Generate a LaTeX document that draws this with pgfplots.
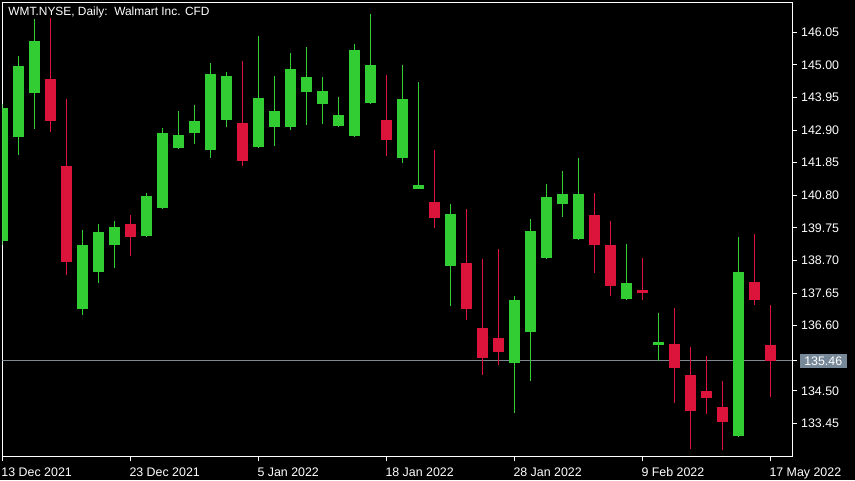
\documentclass[border=0pt]{standalone}
\usepackage{pgfplots}
\pgfplotsset{compat=1.18}
\usepackage{pgfplotstable}
\usepackage{fontspec}
\setmainfont{Liberation Sans}
\definecolor{bull}{RGB}{50,205,50}
\definecolor{bear}{RGB}{220,20,60}
\definecolor{pricebox}{RGB}{119,136,153}
\definecolor{priceline}{RGB}{128,136,148}

% k = bar index, O H L C
\pgfplotstableread{
k O H L C
0 139.34 143.75 139.20 143.61
1 142.69 145.29 142.11 144.96
2 144.10 146.48 142.94 145.77
5 137.15 139.68 136.95 139.20
6 138.34 139.87 137.97 139.62
7 139.21 139.97 138.47 139.78
9 139.50 140.87 139.45 140.78
10 140.40 142.97 140.35 142.81
11 142.33 143.52 142.29 142.74
12 142.82 143.71 142.46 143.19
13 142.27 145.06 142.01 144.71
14 143.23 144.77 143.01 144.64
16 142.36 145.93 142.33 143.93
17 143.01 144.64 142.40 143.52
18 143.01 145.38 142.91 144.87
19 144.14 145.58 143.07 144.61
20 143.75 144.61 143.11 144.16
21 143.04 143.97 143.00 143.39
22 142.72 145.67 142.68 145.48
23 143.78 146.64 143.75 145.00
25 142.01 145.00 141.85 143.90
26 141.01 144.45 141.00 141.13
28 138.53 140.52 137.24 140.20
32 135.41 137.55 133.79 137.43
33 136.40 140.04 134.83 139.65
34 138.79 141.16 138.75 140.74
35 140.53 141.58 140.11 140.84
36 139.40 142.00 139.37 140.84
39 137.47 139.23 137.44 137.97
41 135.99 137.01 135.46 136.07
46 133.05 139.46 133.02 138.33
}\bullbars

\pgfplotstableread{
k O H L C
3 144.55 146.51 142.85 143.20
4 141.74 143.90 138.23 138.66
8 139.87 140.16 138.85 139.46
15 143.13 145.13 141.75 141.91
24 143.23 144.67 142.07 142.59
27 140.58 142.26 139.75 140.08
29 138.62 140.36 136.79 137.15
30 136.52 138.75 135.02 135.57
31 136.20 139.07 135.34 135.76
37 140.16 140.87 138.31 139.21
38 139.20 139.97 137.56 137.89
40 137.75 138.78 137.44 137.66
42 136.01 137.17 134.12 135.24
43 135.01 135.91 132.63 133.86
44 134.49 135.62 133.76 134.28
45 133.98 134.82 132.60 133.50
47 138.01 139.55 137.27 137.44
48 135.98 137.26 134.31 135.46
}\bearbars

\begin{document}
\begin{tikzpicture}
\fill[black] (0pt,0pt) rectangle (855pt,480pt);
\begin{axis}[
  at={(2.3pt,23.3pt)}, anchor=south west,
  scale only axis, width=790pt, height=454.4pt,
  xmin=0, xmax=49.375, ymin=132.376, ymax=147.017,
  axis line style={white, line width=1pt},
  tick align=outside,
  major tick length=4.7pt,
  tick style={white, line width=1pt},
  xtick pos=left, ytick pos=right, yticklabel pos=right,
  xtick={0,8,16,24,32,40,48},
  xticklabels={13 Dec 2021, 23 Dec 2021, 5 Jan 2022, 18 Jan 2022, 28 Jan 2022, 9 Feb 2022, 17 May 2022},
  ytick={133.45,134.50,136.60,137.65,138.70,139.75,140.80,141.85,142.90,143.95,145.00,146.05},
  /pgf/number format/assume math mode=true,
  yticklabel style={/pgf/number format/fixed, /pgf/number format/fixed zerofill, /pgf/number format/precision=2},
  tick label style={font=\fontsize{12.4}{14}\selectfont, text=white, inner sep=0pt},
  xticklabel style={anchor=north west, xshift=-1pt, yshift=-6pt},
  yticklabel style={anchor=west, xshift=4pt},
  extra y ticks={135.46},
  extra y tick style={yticklabel style={fill=pricebox, inner xsep=4.35pt, inner ysep=2.25pt, text height=8.9pt, text depth=0pt, xshift=-1.3pt}},
  clip=true,
  candle/.style={draw=none, no markers, error bars/.cd, y dir=both, y explicit, error mark=none,
    error bar style={#1}},
]
\addplot[priceline, line width=1pt, forget plot] coordinates {(0,135.46) (49.375,135.46)};
% wicks
\addplot[candle={bull, line width=1pt}]
  table[x=k, y expr={(\thisrow{H}+\thisrow{L})/2}, y error expr={(\thisrow{H}-\thisrow{L})/2}] {\bullbars};
\addplot[candle={bear, line width=1pt}]
  table[x=k, y expr={(\thisrow{H}+\thisrow{L})/2}, y error expr={(\thisrow{H}-\thisrow{L})/2}] {\bearbars};
% bodies
\addplot[candle={bull, line width=11pt}]
  table[x=k, y expr={(\thisrow{O}+\thisrow{C})/2}, y error expr={(\thisrow{C}-\thisrow{O})/2}] {\bullbars};
\addplot[candle={bear, line width=11pt}]
  table[x=k, y expr={(\thisrow{O}+\thisrow{C})/2}, y error expr={(\thisrow{O}-\thisrow{C})/2}] {\bearbars};
\node[anchor=north west, inner sep=0pt, text=white, font=\fontsize{11.9}{14}\selectfont,
  xshift=6pt, yshift=-4.4pt] at (rel axis cs:0,1) {WMT.NYSE, Daily:~~Walmart Inc. CFD};
\end{axis}
\end{tikzpicture}
\end{document}
